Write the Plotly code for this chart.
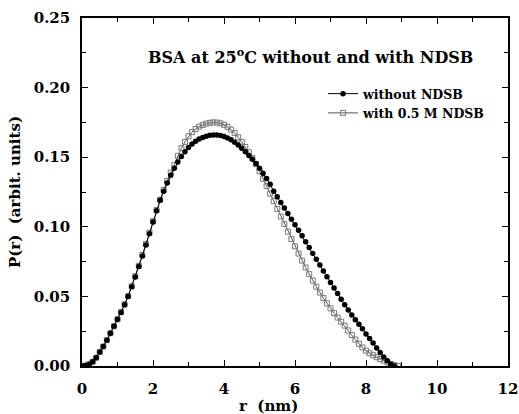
import plotly.graph_objects as go

# r values (nm)
r_without = [round(0.1 * i, 1) for i in range(0, 89)]  # 0.0 .. 8.8
p_without = [
    0.0000, 0.0003, 0.0012, 0.0030, 0.0060, 0.0100, 0.0140, 0.0185, 0.0235, 0.0285,
    0.0335, 0.0385, 0.0440, 0.0500, 0.0570, 0.0640, 0.0715, 0.0790, 0.0870, 0.0950,
    0.1035, 0.1115, 0.1190, 0.1255, 0.1315, 0.1370, 0.1420, 0.1465, 0.1505, 0.1540,
    0.1570, 0.1595, 0.1615, 0.1630, 0.1642, 0.1651, 0.1657, 0.1660, 0.1659, 0.1655,
    0.1648, 0.1638, 0.1625, 0.1608, 0.1588, 0.1565, 0.1540, 0.1513, 0.1485, 0.1455,
    0.1420, 0.1385, 0.1347, 0.1305, 0.1255, 0.1215, 0.1175, 0.1135, 0.1095, 0.1055,
    0.1015, 0.0975, 0.0935, 0.0893, 0.0851, 0.0809, 0.0767, 0.0725, 0.0683, 0.0641,
    0.0600, 0.0560, 0.0520, 0.0480, 0.0440, 0.0402, 0.0367, 0.0333, 0.0300, 0.0268,
    0.0230, 0.0198, 0.0165, 0.0130, 0.0097, 0.0065, 0.0037, 0.0012, 0.0000,
]

r_with = [round(0.1 * i, 1) for i in range(0, 90)]  # 0.0 .. 8.9
p_with = [
    0.0000, 0.0003, 0.0012, 0.0030, 0.0060, 0.0100, 0.0140, 0.0185, 0.0235, 0.0285,
    0.0335, 0.0388, 0.0443, 0.0503, 0.0573, 0.0645, 0.0720, 0.0797, 0.0877, 0.0958,
    0.1040, 0.1120, 0.1195, 0.1265, 0.1330, 0.1390, 0.1445, 0.1510, 0.1565, 0.1610,
    0.1650, 0.1680, 0.1703, 0.1720, 0.1732, 0.1741, 0.1747, 0.1750, 0.1749, 0.1743,
    0.1733, 0.1718, 0.1698, 0.1673, 0.1643, 0.1610, 0.1573, 0.1535, 0.1495, 0.1450,
    0.1398, 0.1345, 0.1292, 0.1238, 0.1184, 0.1129, 0.1074, 0.1019, 0.0965, 0.0912,
    0.0860, 0.0808, 0.0757, 0.0708, 0.0660, 0.0614, 0.0570, 0.0528, 0.0488, 0.0450,
    0.0414, 0.0380, 0.0348, 0.0318, 0.0290, 0.0255, 0.0222, 0.0190, 0.0160, 0.0133,
    0.0110, 0.0092, 0.0077, 0.0063, 0.0050, 0.0038, 0.0026, 0.0015, 0.0006, 0.0000,
]

x_ticks = [0, 2, 4, 6, 8, 10, 12]
y_ticks = [0.00, 0.05, 0.10, 0.15, 0.20, 0.25]
y_tick_labels = ["0.00", "0.05", "0.10", "0.15", "0.20", "0.25"]

FONT = "DejaVu Serif"

PW, PH = 426, 348  # plot area size in px

fig = go.Figure()
fig.add_trace(go.Scatter(
    x=r_with, y=p_with, mode="lines+markers", name="<b>with 0.5 M NDSB</b>",
    line=dict(color="#555555", width=1),
    marker=dict(symbol="square-open", size=5, color="#777777", line=dict(width=1)),
))
fig.add_trace(go.Scatter(
    x=r_without, y=p_without, mode="lines+markers", name="<b>without NDSB</b>",
    line=dict(color="black", width=1),
    marker=dict(symbol="circle", size=5.5, color="black"),
))

axis_common = dict(
    showline=True, linecolor="black", linewidth=1.5, mirror="allticks",
    ticks="inside", ticklen=6, tickwidth=1, tickcolor="black",
    showgrid=False, zeroline=False, automargin=False,
    tickfont=dict(family=FONT, size=15, color="black", weight="bold"),
)

fig.update_xaxes(
    range=[0, 12], tickvals=x_ticks, ticktext=[str(v) for v in x_ticks],
    minor=dict(dtick=1, ticks="inside", ticklen=4, tickcolor="black", showgrid=False),
    ticklabelstandoff=8,
    **axis_common,
)
fig.update_yaxes(
    range=[0, 0.25], tickvals=y_ticks, ticktext=y_tick_labels,
    minor=dict(dtick=0.025, ticks="inside", ticklen=4, tickcolor="black", showgrid=False),
    ticklabelstandoff=7,
    title=dict(text="P(r)  (arbit. units)", font=dict(family=FONT, size=15, color="black", weight="bold"), standoff=9),
    **axis_common,
)

fig.add_annotation(
    text="r  (nm)", xref="paper", yref="paper", x=(268 - 82) / PW, y=-(406 - 366) / PH,
    showarrow=False, font=dict(family=FONT, size=15, color="black", weight="bold"),
    xanchor="center", yanchor="middle",
)
fig.add_annotation(
    text="BSA at 25<sup>o</sup>C without and with NDSB", xref="paper", yref="paper",
    x=(146 - 82) / PW, y=(366 - 56) / PH, xanchor="left", yanchor="middle",
    showarrow=False, font=dict(family=FONT, size=16, color="black", weight="bold"),
)

fig.update_layout(
    width=519, height=414,
    margin=dict(l=82, r=11, t=18, b=48, autoexpand=False),
    paper_bgcolor="white", plot_bgcolor="white",
    showlegend=True,
    legend=dict(
        x=(323 - 82) / PW, y=(366 - 79) / PH, xanchor="left", yanchor="top",
        traceorder="reversed", bgcolor="rgba(0,0,0,0)",
        font=dict(family=FONT, size=12.5, color="black"),
        itemwidth=30, tracegroupgap=0,
    ),
)

fig.write_html(
    "out.html",
    config={"displayModeBar": False},
    post_script=(
        "document.body.style.margin='0';"
        "document.body.style.overflow='hidden';"
        "document.documentElement.style.overflow='hidden';"
    ),
)
